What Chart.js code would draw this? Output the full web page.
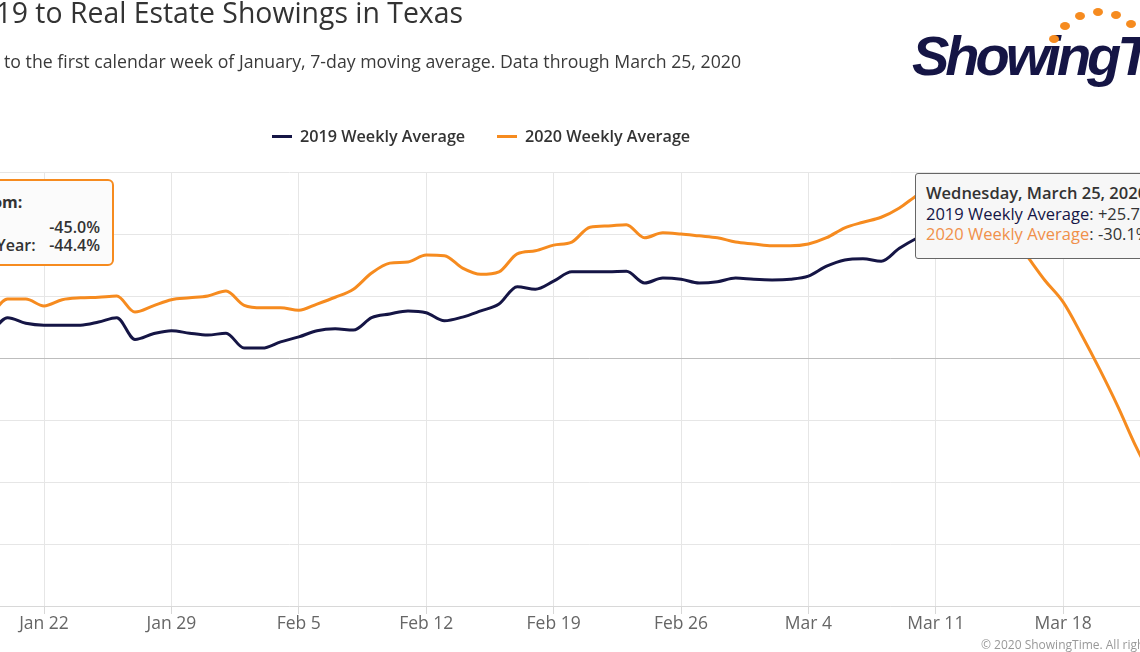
<!DOCTYPE html>
<html lang="en">
<head>
  <meta charset="UTF-8">
  <title>COVID-19 Real Estate Showings in Texas</title>
  <script src="https://cdn.jsdelivr.net/npm/chart.js"></script>
  <style>
    body {
      margin: 0;
      width: 1140px;
      height: 652px;
      overflow: hidden;
      position: relative;
      background: #fff;
      font-family: "Open Sans", Arial, sans-serif;
      color: #333;
    }
    .abs { position: absolute; white-space: nowrap; }
    #title { right: 677px; top: -2px; font-size: 28.4px; line-height: 28px; color: #333; }
    #subtitle { right: 399px; top: 53px; font-size: 17.7px; line-height: 17px; color: #3a3a3a; }
    #logo { left: 912px; top: 26px; font-size: 56px; line-height: 60px; font-weight: bold; font-style: italic;
      color: #151545; letter-spacing: -4px; font-family: "Liberation Sans", Arial, sans-serif; }
    .dot { position: absolute; width: 10px; height: 8px; border-radius: 50%; background: #f68b1f; }
    .legend { font-size: 16.2px; font-weight: 600; color: #333; top: 125px; line-height: 22px; }
    .mark { position: absolute; height: 3px; width: 20px; top: 135px; }
    #wrap { position: absolute; left: -40px; top: 0; width: 1260px; height: 652px; }
    #box { left: -60px; top: 179px; width: 170px; height: 83px; border: 2px solid #f68b1f; border-radius: 6px;
      background: #fbfbfb; font-size: 16px; }
    #tip { left: 915px; top: 173px; width: 260px; height: 86px; border: 1px solid #666; border-radius: 3px;
      background: #f7f7f7; font-size: 16.5px; line-height: 20.5px; padding: 9px 0 0 10px; box-sizing: border-box; }
    #credit { left: 981px; top: 636px; font-size: 12px; color: #999; }
  </style>
</head>
<body>
  <div id="wrap"><canvas id="chart"></canvas></div>

  <div id="title" class="abs">Impact of COVID-19 to Real Estate Showings in Texas</div>
  <div id="subtitle" class="abs">Percent change relative to the first calendar week of January, 7-day moving average. Data through March 25, 2020</div>

  <div id="logo" class="abs">ShowingTime</div>
  <div class="dot" style="left:1049px;top:35px"></div>
  <div class="dot" style="left:1060px;top:22px"></div>
  <div class="dot" style="left:1075px;top:12px"></div>
  <div class="dot" style="left:1093px;top:8px"></div>
  <div class="dot" style="left:1111px;top:11px"></div>
  <div class="dot" style="left:1126px;top:20px"></div>

  <div class="mark" style="left:272px;background:#151545"></div>
  <div class="legend abs" style="left:300px">2019 Weekly Average</div>
  <div class="mark" style="left:497px;background:#f68b1f"></div>
  <div class="legend abs" style="left:525px">2020 Weekly Average</div>

  <div id="box" class="abs">
    <span class="abs" style="left:-16px;top:10px;font-weight:bold">Down From:</span>
    <span class="abs" style="left:12px;top:35px;font-weight:600">Peak:</span>
    <span class="abs" style="right:12px;top:35px;font-weight:600">-45.0%</span>
    <span class="abs" style="left:18px;top:53px;font-weight:600">Last Year:</span>
    <span class="abs" style="right:12px;top:53px;font-weight:600">-44.4%</span>
  </div>

  <div id="tip" class="abs">
    <div style="font-weight:600">Wednesday, March 25, 2020</div>
    <div><span style="color:#151545">2019 Weekly Average</span>: +25.7%</div>
    <div><span style="color:#f0904a">2020 Weekly Average</span>: -30.1%</div>
  </div>

  <div id="credit" class="abs">© 2020 ShowingTime. All rights reserved.</div>

  <script>
    const days = [
      "Jan 19", "Jan 20", "Jan 21", "Jan 22", "Jan 23", "Jan 24", "Jan 25", "Jan 26", "Jan 27", "Jan 28", "Jan 29", "Jan 30", "Jan 31",
      "Feb 1", "Feb 2", "Feb 3", "Feb 4", "Feb 5", "Feb 6", "Feb 7", "Feb 8", "Feb 9", "Feb 10", "Feb 11", "Feb 12", "Feb 13", "Feb 14",
      "Feb 15", "Feb 16", "Feb 17", "Feb 18", "Feb 19", "Feb 20", "Feb 21", "Feb 22", "Feb 23", "Feb 24", "Feb 25", "Feb 26", "Feb 27",
      "Feb 28", "Feb 29",
      "Mar 1", "Mar 2", "Mar 3", "Mar 4", "Mar 5", "Mar 6", "Mar 7", "Mar 8", "Mar 9", "Mar 10", "Mar 11", "Mar 12", "Mar 13", "Mar 14",
      "Mar 15", "Mar 16", "Mar 17", "Mar 18", "Mar 19", "Mar 20", "Mar 21", "Mar 22", "Mar 23", "Mar 24", "Mar 25"
    ];
    // wednesdays get a label and a grid line
    const tickDays = ["Jan 22", "Jan 29", "Feb 5", "Feb 12", "Feb 19", "Feb 26", "Mar 4", "Mar 11", "Mar 18", "Mar 25"];

    const avg2019 = [
      3.7, 6.5, 5.6, 5.3, 5.3, 5.3, 5.8, 6.5, 3.0, 3.9, 4.4, 4.0, 3.7,
      4.0, 1.6, 1.6, 2.6, 3.4, 4.4, 4.7, 4.5, 6.5, 7.1, 7.6, 7.3, 6.0, 6.6,
      7.6, 8.7, 11.5, 11.1, 12.4, 13.9, 13.9, 13.9, 14.0, 12.1, 12.9, 12.7, 12.1,
      12.3, 12.9,
      12.7, 12.6, 12.7, 13.2, 14.8, 15.8, 16.0, 15.6, 17.7, 19.4, 20.8, 21.5, 22.0, 22.3,
      22.6, 23.0, 23.3, 23.5, 23.8, 24.1, 24.4, 24.8, 25.1, 25.4, 25.7
    ];
    const avg2020 = [
      6.5, 9.5, 9.5, 8.4, 9.4, 9.7, 9.8, 10.0, 7.4, 8.4, 9.4, 9.7, 10.0,
      10.8, 8.5, 8.1, 8.1, 7.7, 8.7, 9.8, 11.1, 13.7, 15.3, 15.5, 16.6, 16.5, 14.5,
      13.5, 13.9, 16.8, 17.3, 18.2, 18.7, 21.1, 21.3, 21.5, 19.4, 20.2, 20.0, 19.7,
      19.4, 18.7,
      18.4, 18.1, 18.1, 18.4, 19.4, 21.0, 21.9, 22.7, 24.2, 26.3, 28.0, 28.8, 27.5, 24.5,
      20.5, 16.5, 12.5, 9.0, 3.8, -1.8, -7.8, -14.3, -20.0, -25.3, -30.1
    ];

    const navy = "#151545";
    const orange = "#f68b1f";

    const ctx = document.getElementById("chart").getContext("2d");
    new Chart(ctx, {
      type: "line",
      data: {
        labels: days,
        datasets: [
          { label: "2019 Weekly Average", data: avg2019, borderColor: navy, borderWidth: 3,
            pointRadius: 0, cubicInterpolationMode: "monotone" },
          { label: "2020 Weekly Average", data: avg2020, borderColor: orange, borderWidth: 3,
            pointRadius: 0, cubicInterpolationMode: "monotone" }
        ]
      },
      options: {
        responsive: true,
        maintainAspectRatio: false,
        animation: false,
        layout: { padding: { top: 172, bottom: 0, left: 29.4, right: 29.4 } },
        plugins: { legend: { display: false }, tooltip: { enabled: false } },
        scales: {
          x: {
            afterFit: s => { s.height = 46; },
            border: { color: "#d8d8d8" },
            grid: {
              color: c => tickDays.includes(days[c.index]) ? "#e6e6e6" : "rgba(0,0,0,0)",
              tickColor: c => tickDays.includes(days[c.index]) ? "#d8d8d8" : "rgba(0,0,0,0)",
              tickLength: 8
            },
            ticks: {
              autoSkip: false,
              maxRotation: 0,
              padding: 0,
              color: "#666",
              font: { family: "Open Sans", size: 17.5 },
              callback: (v, i) => tickDays.includes(days[i]) ? days[i] : ""
            }
          },
          y: {
            min: -40,
            max: 30,
            afterFit: s => { s.width = 0; },
            border: { display: false },
            ticks: { display: false, stepSize: 10 },
            grid: {
              drawTicks: false,
              color: c => c.tick.value === 0 ? "#bdbdbd" : "#e6e6e6"
            }
          }
        }
      }
    });
  </script>
</body>
</html>
